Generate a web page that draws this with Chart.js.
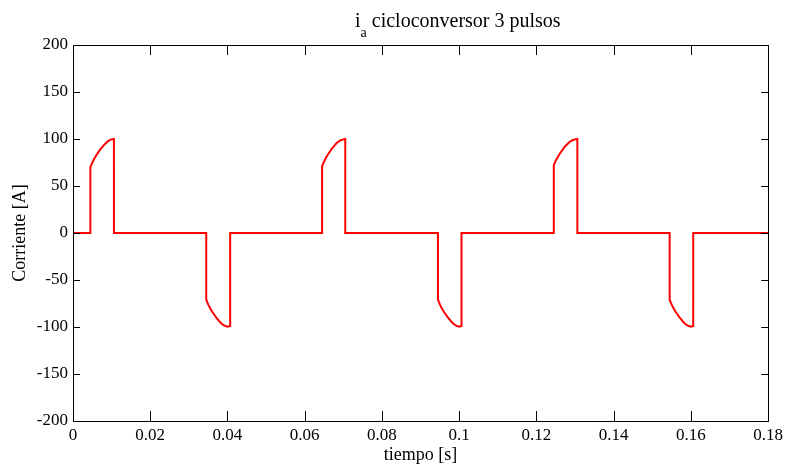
<!DOCTYPE html>
<html>
<head>
<meta charset="utf-8">
<script src="https://cdn.jsdelivr.net/npm/chart.js@4"></script>
<style>
  body { margin: 0; background: #fff; }
  #wrap { width: 787px; height: 466px; }
</style>
</head>
<body>
<div id="wrap"><canvas id="grafico" width="787" height="466"></canvas></div>
<script>
// tiempo [s] y corriente [A]
const tiempo = [
  0, 0.0045,
  0.0045, 0.0050, 0.0055, 0.0060, 0.0065, 0.0070, 0.0075, 0.0080, 0.0085, 0.0090, 0.0095, 0.0100, 0.0106,
  0.0106, 0.0345,
  0.0345, 0.0350, 0.0355, 0.0360, 0.0365, 0.0370, 0.0375, 0.0380, 0.0385, 0.0390, 0.0395, 0.0400, 0.0407,
  0.0407, 0.0645,
  0.0645, 0.0650, 0.0655, 0.0660, 0.0665, 0.0670, 0.0675, 0.0680, 0.0685, 0.0690, 0.0695, 0.0700, 0.0705,
  0.0705, 0.0945,
  0.0945, 0.0950, 0.0955, 0.0960, 0.0965, 0.0970, 0.0975, 0.0980, 0.0985, 0.0990, 0.0995, 0.1000, 0.1006,
  0.1006, 0.1245,
  0.1245, 0.1250, 0.1255, 0.1260, 0.1265, 0.1270, 0.1275, 0.1280, 0.1285, 0.1290, 0.1295, 0.1300, 0.1306,
  0.1306, 0.1545,
  0.1545, 0.1550, 0.1555, 0.1560, 0.1565, 0.1570, 0.1575, 0.1580, 0.1585, 0.1590, 0.1595, 0.1600, 0.1606,
  0.1606, 0.18
];
const corriente = [
  0, 0,
  70, 75, 79, 82.5, 85.5, 88.5, 91, 93.5, 95.5, 97.5, 98.8, 99.6, 100,
  0, 0,
  -71, -76, -80, -83.5, -86.5, -89.5, -92, -94.5, -96.5, -98, -99, -99.6, -99,
  0, 0,
  71, 76, 80, 83.5, 86.5, 89.5, 92, 94.5, 96.5, 98, 99, 99.6, 100,
  0, 0,
  -71, -76, -80, -83.5, -86.5, -89.5, -92, -94.5, -96.5, -98, -99, -99.6, -99,
  0, 0,
  72, 77, 80.5, 84, 87, 90, 92.5, 94.5, 96.5, 98, 99, 99.6, 100,
  0, 0,
  -71, -76, -80, -83.5, -86.5, -89.5, -92, -94.5, -96.5, -98, -99, -99.6, -99,
  0, 0
];
const ticksX = [0, 0.02, 0.04, 0.06, 0.08, 0.1, 0.12, 0.14, 0.16, 0.18];
const ticksY = [-200, -150, -100, -50, 0, 50, 100, 150, 200];

const fuente = "'Liberation Serif', 'Times New Roman', serif";

// marcas hacia adentro en los 4 lados + caja, y titulo con subindice
const estiloMatlab = {
  id: 'estiloMatlab',
  afterDatasetsDraw(chart) {
    const { ctx, chartArea: a, scales } = chart;
    ctx.save();
    ctx.strokeStyle = '#000';
    ctx.lineWidth = 1;
    ctx.beginPath();
    ticksX.forEach(v => {
      const px = Math.round(scales.x.getPixelForValue(v)) + 0.5;
      ctx.moveTo(px, a.bottom); ctx.lineTo(px, a.bottom - 10);
      ctx.moveTo(px, a.top); ctx.lineTo(px, a.top + 10);
    });
    ticksY.forEach(v => {
      const py = Math.round(scales.y.getPixelForValue(v)) + 0.5;
      ctx.moveTo(a.left, py); ctx.lineTo(a.left + 7, py);
      ctx.moveTo(a.right, py); ctx.lineTo(a.right - 7, py);
    });
    ctx.stroke();
    ctx.strokeRect(Math.round(a.left) + 0.5, Math.round(a.top) + 0.5,
      Math.round(a.right - a.left), Math.round(a.bottom - a.top));

    // titulo
    ctx.fillStyle = '#000';
    ctx.textBaseline = 'alphabetic';
    ctx.textAlign = 'left';
    let x = a.left + 282;
    const y = 27;
    ctx.font = '20px ' + fuente;
    ctx.fillText('i', x, y);
    x += ctx.measureText('i').width;
    ctx.font = '14px ' + fuente;
    ctx.fillText('a', x, y + 10);
    x += ctx.measureText('a').width;
    ctx.font = '20px ' + fuente;
    ctx.fillText(' cicloconversor 3 pulsos', x, y);
    ctx.restore();
  }
};

new Chart(document.getElementById('grafico'), {
  type: 'line',
  data: {
    datasets: [{
      data: tiempo.map((t, i) => ({ x: t, y: corriente[i] })),
      borderColor: '#ff0000',
      borderWidth: 2,
      pointRadius: 0,
      tension: 0,
      fill: false
    }]
  },
  options: {
    responsive: false,
    devicePixelRatio: 1,
    animation: false,
    layout: { padding: { top: 45, right: 18, left: 0, bottom: 0 } },
    plugins: { legend: { display: false }, tooltip: { enabled: false }, title: { display: false } },
    scales: {
      x: {
        type: 'linear',
        min: 0, max: 0.18,
        afterBuildTicks: s => { s.ticks = ticksX.map(v => ({ value: v })); },
        afterFit: s => { s.height = 45; },
        grid: { display: false, drawTicks: false, tickLength: 0 },
        border: { display: true, color: '#000' },
        ticks: {
          color: '#000', padding: 4, maxRotation: 0,
          font: { family: fuente, size: 17 },
          callback: v => String(+v.toFixed(2))
        },
        title: {
          display: true, text: 'tiempo [s]', color: '#000',
          font: { family: fuente, size: 18 }, padding: { top: 0, bottom: 0 }
        }
      },
      y: {
        min: -200, max: 200,
        afterBuildTicks: s => { s.ticks = ticksY.map(v => ({ value: v })); },
        afterFit: s => { s.width = 73; },
        grid: { display: false, drawTicks: false, tickLength: 0 },
        border: { display: true, color: '#000' },
        ticks: {
          color: '#000', padding: 5,
          font: { family: fuente, size: 17 }
        },
        title: {
          display: true, text: 'Corriente [A]', color: '#000',
          font: { family: fuente, size: 18 }, padding: { top: 9, bottom: 0 }
        }
      }
    }
  },
  plugins: [estiloMatlab]
});
</script>
</body>
</html>
